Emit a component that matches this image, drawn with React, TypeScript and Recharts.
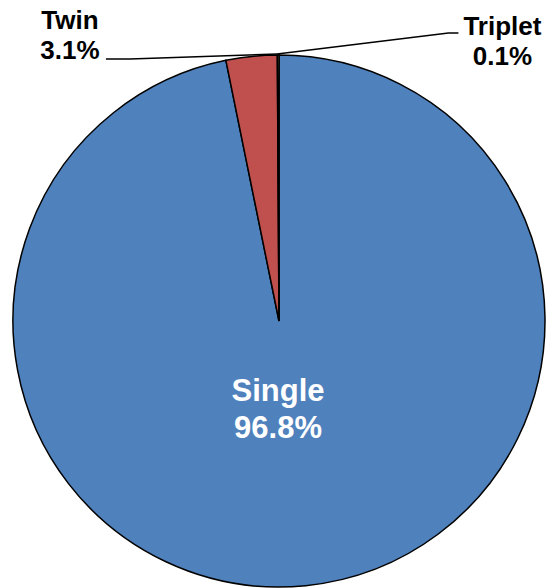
import { PieChart, Pie, Cell } from "recharts";

const births = ["Single", "Twin", "Triplet"];
const shares = [96.8, 3.1, 0.1];
const colors = ["#4F81BD", "#C0504D", "#9BBB59"];

const data = births.map((name, i) => ({ name, value: shares[i] }));

const FONT = "'Liberation Sans', Arial, sans-serif";

function renderLabel(props: any) {
  const { cx, cy, outerRadius, index } = props;
  const r = outerRadius;
  const name = births[index];
  const pct = `${shares[index].toFixed(1)}%`;

  if (index === 0) {
    const x = cx - 1;
    const y = cy + 0.3 * r;
    return (
      <text x={x} y={y} textAnchor="middle" fill="#fff" fontFamily={FONT} fontWeight="bold" fontSize={31}>
        <tspan x={x} dy={0}>{name}</tspan>
        <tspan x={x} dy={37}>{pct}</tspan>
      </text>
    );
  }

  // leader lines meet near the top of the pie
  const tipX = cx - 2;
  const tipY = cy - r - 1;
  if (index === 1) {
    const tx = cx - 0.786 * r;
    const base = cy - r - 26; // first line baseline
    return (
      <g>
        <polyline
          points={`${tx + 36},${base + 30} ${tx + 60},${base + 30} ${tipX},${tipY}`}
          fill="none"
          stroke="#000"
          strokeWidth={1.5}
        />
        <text x={tx} y={base} textAnchor="middle" fill="#000" fontFamily={FONT} fontWeight="bold" fontSize={26}>
          <tspan x={tx} dy={0}>{name}</tspan>
          <tspan x={tx} dy={30}>{pct}</tspan>
        </text>
      </g>
    );
  }

  const tx = cx + 0.84 * r;
  const base = cy - r - 20;
  return (
    <g>
      <polyline
        points={`${tipX},${tipY} ${tx - 54},${base - 2} ${tx - 44},${base - 2}`}
        fill="none"
        stroke="#000"
        strokeWidth={1.5}
      />
      <text x={tx} y={base} textAnchor="middle" fill="#000" fontFamily={FONT} fontWeight="bold" fontSize={26}>
        <tspan x={tx} dy={0}>{name}</tspan>
        <tspan x={tx} dy={30}>{pct}</tspan>
      </text>
    </g>
  );
}

export default function App() {
  return (
    <div style={{ position: "absolute", left: 0, top: 0, width: 552, height: 588, background: "#fff" }}>
      <PieChart width={552} height={588} margin={{ top: 0, right: 0, bottom: 0, left: 0 }}>
        <Pie
          data={data}
          dataKey="value"
          nameKey="name"
          cx={279}
          cy={321}
          outerRadius={266}
          startAngle={90}
          endAngle={-270}
          stroke="#000"
          strokeWidth={1.5}
          label={renderLabel}
          labelLine={false}
          isAnimationActive={false}
        >
          {data.map((d, i) => (
            <Cell key={d.name} fill={colors[i]} />
          ))}
        </Pie>
      </PieChart>
    </div>
  );
}
